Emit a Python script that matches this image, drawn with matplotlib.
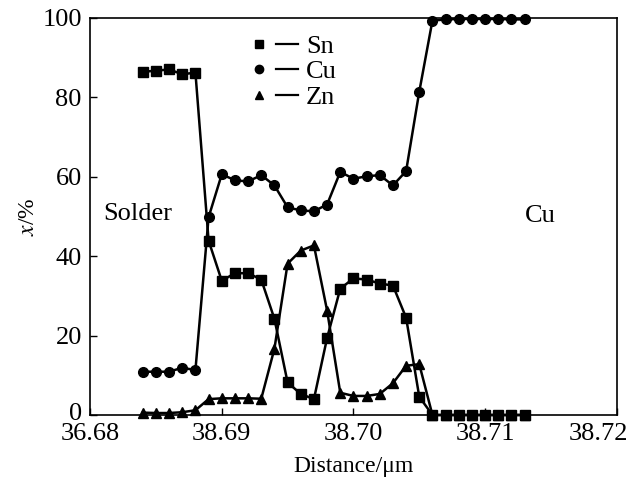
import matplotlib
matplotlib.use('Agg')
from matplotlib import pyplot as plt
from matplotlib import transforms as mtrans
from matplotlib.lines import Line2D
from matplotlib.legend_handler import HandlerTuple

plt.rcParams['font.family'] = 'Liberation Serif'
plt.rcParams['mathtext.fontset'] = 'stix'

# distance along the line scan (um)
distance = [38.684, 38.685, 38.686, 38.687, 38.688, 38.689, 38.690, 38.691, 38.692, 38.693,
            38.694, 38.695, 38.696, 38.697, 38.698, 38.699, 38.700, 38.701, 38.702, 38.703,
            38.704, 38.705, 38.706, 38.707, 38.708, 38.709, 38.710, 38.711, 38.712, 38.713]

sn = [86.4, 86.7, 87.0, 85.8, 86.2, 43.9, 33.8, 35.7, 35.7, 34.1,
      24.2, 8.2, 5.3, 4.0, 19.4, 31.8, 34.4, 34.1, 33.1, 32.6,
      24.5, 4.6, 0.0, 0.0, 0.0, 0.0, 0.0, 0.0, 0.0, 0.0]

cu = [10.9, 10.9, 10.9, 11.9, 11.3, 49.8, 60.6, 59.1, 58.8, 60.4,
      57.8, 52.3, 51.5, 51.3, 53.0, 61.2, 59.5, 60.1, 60.4, 57.8,
      61.4, 81.4, 99.3, 99.6, 99.7, 99.7, 99.7, 99.7, 99.6, 99.6]

zn = [0.6, 0.5, 0.5, 0.7, 1.2, 4.0, 4.2, 4.2, 4.2, 4.1,
      16.7, 38.1, 41.4, 42.7, 26.3, 5.6, 4.8, 4.8, 5.3, 8.0,
      12.4, 12.8, 0.0, 0.0, 0.0, 0.0, 0.0, 0.0, 0.0, 0.0]

x_ticks = [38.68, 38.69, 38.70, 38.71, 38.72]
x_tick_labels = ['36.68', '38.69', '38.70', '38.71', '38.72']
y_ticks = [0, 20, 40, 60, 80, 100]

fig = plt.figure(figsize=(6.3, 4.82), dpi=100)
ax = fig.add_axes([0.143, 0.139, 0.836, 0.824])

ax.plot(distance, sn, color='black', lw=1.8, marker='s', ms=6.5, clip_on=False, zorder=3)
ax.plot(distance, cu, color='black', lw=1.8, marker='o', ms=7, clip_on=False, zorder=3)
ax.plot(distance, zn, color='black', lw=1.8, marker='^', ms=6.5, clip_on=False, zorder=3)

ax.set_xlim(38.68, 38.72)
ax.set_ylim(0, 100)
ax.set_xticks(x_ticks)
ax.set_xticklabels(x_tick_labels)
ax.set_yticks(y_ticks)
ax.tick_params(direction='in', length=5, width=1, labelsize=19)
ax.tick_params(axis='x', pad=6)
ax.tick_params(axis='y', pad=6)
for s in ax.spines.values():
    s.set_linewidth(1.2)

# last x label sits inside the figure edge, "0" sits a bit high
last = ax.get_xticklabels()[-1]
last.set_ha('right')
last.set_transform(last.get_transform() + mtrans.ScaledTranslation(0.11, 0, fig.dpi_scale_trans))
zero = ax.get_yticklabels()[0]
zero.set_transform(zero.get_transform() + mtrans.ScaledTranslation(0, 0.04, fig.dpi_scale_trans))

ax.set_xlabel('Distance/\u03bcm', fontsize=17, labelpad=8)
ax.set_ylabel(r'$x$/%', fontsize=17, labelpad=2)

ax.text(0.025, 0.505, 'Solder', transform=ax.transAxes, fontsize=19, va='center', ha='left')
ax.text(0.825, 0.50, 'Cu', transform=ax.transAxes, fontsize=19, va='center', ha='left')

# legend: marker, then a short line, then the label
handles = []
for m in ['s', 'o', '^']:
    handles.append((Line2D([], [], color='black', marker=m, ls='none', ms=6),
                    Line2D([], [], color='black', lw=1.6)))
ax.legend(handles, ['Sn', 'Cu', 'Zn'], handler_map={tuple: HandlerTuple(ndivide=None, pad=0.2)},
          loc='upper left', bbox_to_anchor=(0.28, 0.985), frameon=False, fontsize=19,
          handlelength=1.9, handletextpad=0.3, labelspacing=0.08, borderaxespad=0)

fig.savefig('out.png', dpi=100)
